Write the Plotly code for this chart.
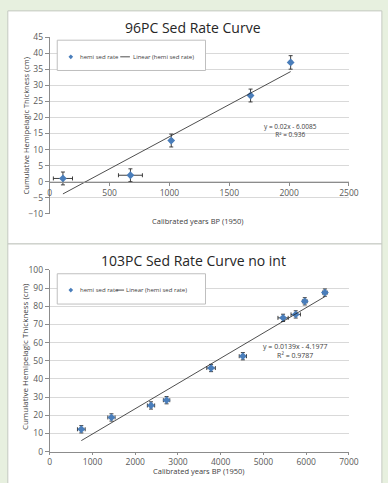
import plotly.graph_objects as go

W, H = 388, 483

# ---------------- data ----------------
top_title = "96PC Sed Rate Curve"
top_years = [110, 674, 1015, 1678, 2013]
top_thick = [1.0, 2.0, 12.8, 26.8, 37.1]
top_year_err = [80, 100, 10, 10, 10]
top_thick_err = [2.0, 2.0, 2.0, 2.0, 2.1]
top_slope = 0.02
top_intercept = -6.0085
top_r2 = "0.936"
top_xticks = [0, 500, 1000, 1500, 2000, 2500]
top_yticks = [-10, -5, 0, 5, 10, 15, 20, 25, 30, 35, 40, 45]

bot_title = "103PC Sed Rate Curve no int"
bot_years = [738, 1443, 2369, 2733, 3774, 4518, 5459, 5755, 5967, 6438]
bot_thick = [12.3, 18.8, 25.4, 28.3, 46.0, 52.5, 73.6, 75.5, 82.7, 87.5]
bot_year_err = [90, 85, 85, 75, 100, 85, 120, 110, 55, 55]
bot_thick_err = [2, 2, 2, 2, 2, 2, 2, 2, 2, 2]
bot_slope = 0.0139
bot_intercept = -4.1977
bot_r2 = "0.9787"
bot_xticks = [0, 1000, 2000, 3000, 4000, 5000, 6000, 7000]
bot_yticks = [0, 10, 20, 30, 40, 50, 60, 70, 80, 90, 100]

series_name = "hemi sed rate"
trend_name = "Linear (hemi sed rate)"
x_title = "Calibrated years BP (1950)"
y_title = "Cumulative Hemipelagic Thickness (cm)"

# ---------------- style ----------------
FONT = "Open Sans"
BLUE = "#4a7ebb"
GRID = "#d9d9d9"
AXIS = "#8c8c8c"
TICKC = "#595959"
GREEN = "#e7f0df"
ERRC = "#2b2b2b"


def px(x):
    return x / W


def py(y):
    return 1 - y / H


def fmt_eq(s, b):
    sign = "-" if b < 0 else "+"
    return f"y = {s:g}x {sign} {abs(b):g}"


fig = go.Figure()

# scatter + trend, top
fig.add_trace(go.Scatter(
    x=top_years, y=top_thick, mode="markers", name=series_name,
    marker=dict(symbol="diamond", size=6, color=BLUE),
    error_y=dict(type="data", array=top_thick_err, color=ERRC, thickness=0.9, width=2),
    error_x=dict(type="data", array=top_year_err, color=ERRC, thickness=0.9, width=2),
    xaxis="x", yaxis="y", showlegend=False))
tx = [min(top_years), max(top_years)]
fig.add_trace(go.Scatter(
    x=tx, y=[top_slope * v + top_intercept for v in tx], mode="lines", name=trend_name,
    line=dict(color="#222222", width=0.8), xaxis="x", yaxis="y", showlegend=False))

# scatter + trend, bottom
fig.add_trace(go.Scatter(
    x=bot_years, y=bot_thick, mode="markers", name=series_name,
    marker=dict(symbol="diamond", size=6, color=BLUE),
    error_y=dict(type="data", array=bot_thick_err, color=ERRC, thickness=0.9, width=2),
    error_x=dict(type="data", array=bot_year_err, color=ERRC, thickness=0.9, width=2),
    xaxis="x2", yaxis="y2", showlegend=False))
bx = [min(bot_years), max(bot_years)]
fig.add_trace(go.Scatter(
    x=bx, y=[bot_slope * v + bot_intercept for v in bx], mode="lines", name=trend_name,
    line=dict(color="#222222", width=0.8), xaxis="x2", yaxis="y2", showlegend=False))

# geometry of the plot areas (pixels)
T_L, T_R, T_TOP, T_BOT = 49.3, 358.0, 31.7, 212.7
B_L, B_R, B_TOP, B_BOT = 49.3, 358.0, 270.0, 456.0

top_yr = [top_yticks[0], top_yticks[-1]]
zero_frac = (0 - top_yr[0]) / (top_yr[1] - top_yr[0])
top_dom = [py(T_BOT), py(T_TOP)]
zero_pos = top_dom[0] + zero_frac * (top_dom[1] - top_dom[0])

axis_common = dict(showline=True, linecolor=AXIS, linewidth=1, ticks="outside",
                   tickcolor=AXIS, tickfont=dict(family=FONT, size=8.5, color=TICKC),
                   zeroline=False, fixedrange=True)

fig.update_layout(
    width=W, height=H, margin=dict(l=0, r=0, t=0, b=0),
    paper_bgcolor=GREEN, plot_bgcolor="rgba(0,0,0,0)",
    font=dict(family=FONT, color="#404040"),
    showlegend=False,
    xaxis=dict(domain=[px(T_L), px(T_R)], range=[top_xticks[0], top_xticks[-1]],
               tickvals=top_xticks, showgrid=False, anchor="free", position=zero_pos,
               ticklen=3, **axis_common),
    yaxis=dict(domain=top_dom, range=[top_yr[0] - 0.01, top_yr[1] + 0.01],
               tickvals=top_yticks, showgrid=True, gridcolor=GRID, gridwidth=1,
               anchor="x", ticklen=4, **axis_common),
    xaxis2=dict(domain=[px(B_L), px(B_R)], range=[bot_xticks[0], bot_xticks[-1]],
                tickvals=bot_xticks, showgrid=False, anchor="y2", ticklen=2, **axis_common),
    yaxis2=dict(domain=[py(B_BOT), py(B_TOP)], range=[bot_yticks[0], bot_yticks[-1] + 0.02],
                tickvals=bot_yticks, showgrid=True, gridcolor=GRID, gridwidth=1,
                anchor="x2", ticklen=4, **axis_common),
)

shapes = []
# white panels
shapes.append(dict(type="rect", xref="paper", yref="paper", x0=px(6), x1=px(392),
                   y0=py(243.5), y1=py(5), fillcolor="white",
                   line=dict(color="#c4c9c0", width=1), layer="below"))
shapes.append(dict(type="rect", xref="paper", yref="paper", x0=px(6), x1=px(392),
                   y0=py(490), y1=py(243.5), fillcolor="white",
                   line=dict(color="#c4c9c0", width=1), layer="below"))


def legend(y_box_top, y_box_bot, yc, line_x0, line_x1, txt1_x, txt2_x):
    out_shapes = [
        dict(type="rect", xref="paper", yref="paper", x0=px(57), x1=px(210),
             y0=py(y_box_bot), y1=py(y_box_top), fillcolor="white",
             line=dict(color="#bfbfbf", width=1)),
        dict(type="line", xref="paper", yref="paper", x0=px(line_x0), x1=px(line_x1),
             y0=py(yc), y1=py(yc), line=dict(color="#222222", width=0.8)),
    ]
    cx, r = 71, 2.4
    path = (f"M{px(cx - r)},{py(yc)} L{px(cx)},{py(yc - r)} "
            f"L{px(cx + r)},{py(yc)} L{px(cx)},{py(yc + r)} Z")
    out_shapes.append(dict(type="path", xref="paper", yref="paper", path=path,
                           fillcolor=BLUE, line=dict(width=0)))
    anns = [
        dict(x=px(txt1_x), y=py(yc), xref="paper", yref="paper", text=series_name,
             showarrow=False, xanchor="left", yanchor="middle",
             font=dict(family=FONT, size=6, color="#404040")),
        dict(x=px(txt2_x), y=py(yc), xref="paper", yref="paper", text=trend_name,
             showarrow=False, xanchor="left", yanchor="middle",
             font=dict(family=FONT, size=6, color="#404040")),
    ]
    return out_shapes, anns


s1, a1 = legend(35, 66, 52, 122, 132, 78, 133)
s2, a2 = legend(274, 305, 290.7, 118, 126, 78, 126)
shapes += s1 + s2

annotations = a1 + a2
annotations += [
    dict(x=px(197), y=py(21.5), xref="paper", yref="paper", text=top_title, showarrow=False,
         xanchor="center", yanchor="middle", font=dict(family=FONT, size=14, color="#262626")),
    dict(x=px(198), y=py(260.5), xref="paper", yref="paper", text=bot_title, showarrow=False,
         xanchor="center", yanchor="middle", font=dict(family=FONT, size=14, color="#262626")),
    dict(x=px(202), y=py(220), xref="paper", yref="paper", text=x_title, showarrow=False,
         xanchor="center", yanchor="middle", font=dict(family=FONT, size=7.5, color="#404040")),
    dict(x=px(203), y=py(483), xref="paper", yref="paper", text=x_title, showarrow=False,
         xanchor="center", yanchor="bottom", font=dict(family=FONT, size=7.5, color="#404040")),
    dict(x=px(25), y=py(123), xref="paper", yref="paper", text=y_title, showarrow=False,
         textangle=-90, xanchor="center", yanchor="middle",
         font=dict(family=FONT, size=7.5, color="#404040")),
    dict(x=px(24), y=py(359), xref="paper", yref="paper", text=y_title, showarrow=False,
         textangle=-90, xanchor="center", yanchor="middle",
         font=dict(family=FONT, size=8, color="#404040")),
    dict(x=px(298), y=py(127), xref="paper", yref="paper",
         text=fmt_eq(top_slope, top_intercept) + "<br>R² = " + top_r2, showarrow=False,
         xanchor="center", yanchor="middle", align="center",
         font=dict(family=FONT, size=6.5, color="#404040")),
    dict(x=px(302), y=py(353), xref="paper", yref="paper",
         text=fmt_eq(bot_slope, bot_intercept) + "<br>R² = " + bot_r2, showarrow=False,
         xanchor="center", yanchor="middle", align="center",
         font=dict(family=FONT, size=7, color="#404040")),
]

fig.update_layout(shapes=shapes, annotations=annotations)
fig.write_html("out.html")
